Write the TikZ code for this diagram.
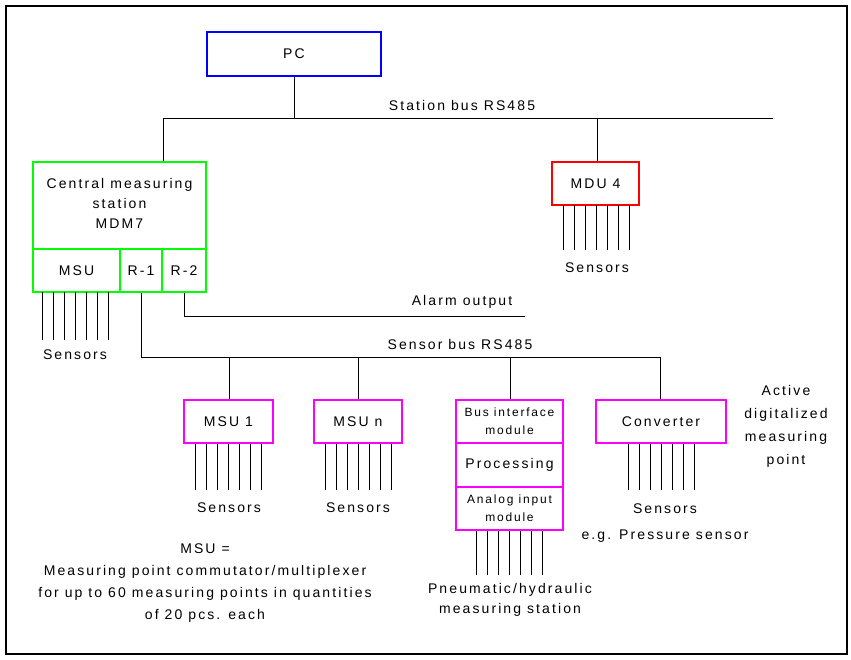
\documentclass[tikz,border=0pt]{standalone}
\usepackage{fontspec}
\setmainfont{Liberation Sans}[LetterSpace=15]
\definecolor{pcblue}{RGB}{0,0,255}
\definecolor{mgreen}{RGB}{0,255,0}
\definecolor{mred}{RGB}{255,0,0}
\definecolor{mmag}{RGB}{255,0,255}
\begin{document}
\begin{tikzpicture}[x=1pt,y=-1pt,
  box/.style={draw=#1,line width=2.5pt,inner sep=0pt,minimum width=0pt,minimum height=0pt},
  wire/.style={line width=0.8pt},
  lbl/.style={font=\fontsize{14}{20}\selectfont,align=center,inner sep=0pt}]
\useasboundingbox (0,0) rectangle (851,659);
\draw[line width=2pt] (6,6) rectangle (847,654);
% PC
\node[box=pcblue,minimum width=174pt,minimum height=44pt] (pc) at (294,54) {};
\node[lbl] (pct) at (pc) {PC};
\coordinate (sbl) at (163,118);
\coordinate (sbr) at (773,118);
\coordinate (sbpc) at (294,118);
\draw[wire] (pc.south) -- (sbpc);
\draw[wire] (sbl) -- (sbr);
\node[lbl] (sbt) at (462,105) {Station bus RS485};
% Green central station
\node[box=mgreen,minimum width=173pt,minimum height=87pt] (cms) at (119.5,205.5) {};
\node[lbl] (cmst) at (119.5,203) {Central measuring\\station\\MDM7};
\node[box=mgreen,minimum width=87pt,minimum height=43pt] (msu0) at (76.5,270.5) {};
\node[lbl] (msu0t) at (msu0) {MSU};
\node[box=mgreen,minimum width=42pt,minimum height=43pt] (r1) at (141,270.5) {};
\node[lbl] (r1t) at (r1) {R-1};
\node[box=mgreen,minimum width=44pt,minimum height=43pt] (r2) at (184,270.5) {};
\node[lbl] (r2t) at (r2) {R-2};
\draw[wire] (sbl) -- (cms.north -| sbl);
% Red MDU
\node[box=mred,minimum width=87pt,minimum height=43pt] (mdu) at (595.5,183.5) {};
\node[lbl] (mdut) at (mdu) {MDU 4};
\draw[wire] (597,118) -- (mdu.north -| 597,0);
% Sensor combs
\foreach \n/\x/\ya/\yb in {a/42/292/340, b/563/205/250, c/195/443/490, d/325/443/490, e/476/530/575, f/628/443/490}{
  \foreach \i in {0,...,6}{
    \draw[wire] (\x+\i*11,\ya) -- (\x+\i*11,\yb);
  }
}
\node[lbl] (s1) at (75,355) {Sensors};
\node[lbl] (s2) at (597,268) {Sensors};
\node[lbl] (s3) at (229,508) {Sensors};
\node[lbl] (s4) at (358,508) {Sensors};
\node[lbl] (s5) at (665,523) {Sensors\\[6pt]e.g. Pressure sensor};
% Alarm output
\coordinate (al1) at (184,316);
\coordinate (al2) at (525,316);
\draw[wire] (r2.south) -- (al1) -- (al2);
\node[lbl] (alt) at (462,302) {Alarm output};
% Sensor bus
\coordinate (snb1) at (141,357);
\coordinate (snb2) at (660,357);
\draw[wire] (r1.south) -- (snb1) -- (snb2);
\node[lbl] (snbt) at (460,344) {Sensor bus RS485};
% lower boxes
\node[box=mmag,minimum width=89pt,minimum height=43pt] (msu1) at (228.5,421.5) {};
\node[lbl] (msu1t) at (msu1) {MSU 1};
\node[box=mmag,minimum width=88pt,minimum height=43pt] (msun) at (358,421.5) {};
\node[lbl] (msunt) at (msun) {MSU n};
\node[box=mmag,minimum width=107pt,minimum height=43pt] (st1) at (509.5,421.5) {};
\node[lbl,font=\fontsize{12}{18}\selectfont] (st1t) at (st1) {Bus interface\\module};
\node[box=mmag,minimum width=107pt,minimum height=44pt] (st2) at (509.5,465) {};
\node[lbl] (st2t) at (st2) {Processing};
\node[box=mmag,minimum width=107pt,minimum height=43pt] (st3) at (509.5,508.5) {};
\node[lbl,font=\fontsize{12}{18}\selectfont] (st3t) at (st3) {Analog input\\module};
\node[box=mmag,minimum width=130pt,minimum height=43pt] (conv) at (661,421.5) {};
\node[lbl] (convt) at (conv) {Converter};
\draw[wire] (229,357) -- (msu1.north -| 229,0);
\draw[wire] (358,357) -- (msun.north);
\draw[wire] (510,357) -- (st1.north -| 510,0);
\draw[wire] (660,357) -- (conv.north -| 660,0);
% texts
\node[lbl] (act) at (786,426) {Active\\[3pt]digitalized\\[3pt]measuring\\[3pt]point};
\node[lbl] (msudef) at (205,583) {MSU =\\[2pt]Measuring point commutator/multiplexer\\[2pt]for up to 60 measuring points in quantities\\[2pt]of 20 pcs. each};
\node[lbl] (pneu) at (510,600) {Pneumatic/hydraulic\\measuring station};
\end{tikzpicture}
\end{document}
